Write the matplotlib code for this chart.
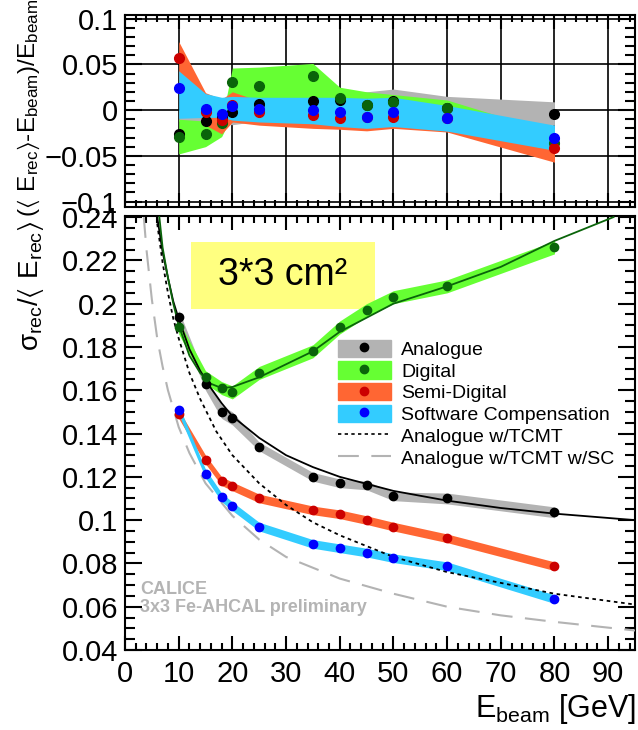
import numpy as np
import matplotlib
matplotlib.use("Agg")
import matplotlib.pyplot as plt
from matplotlib.patches import Patch, Rectangle
from matplotlib.lines import Line2D
from matplotlib.ticker import MultipleLocator, FuncFormatter

plt.rcParams["font.family"] = ["Liberation Sans", "DejaVu Sans"]
plt.rcParams["mathtext.default"] = "regular"

# ---------------------------------------------------
# Data
# ---------------------------------------------------

energy = [10, 15, 18, 20, 25, 35, 40, 45, 50, 60, 80]

# resolution (bottom panel)
res_ana = [0.194, 0.163, 0.150, 0.147, 0.134, 0.120, 0.117, 0.116, 0.111, 0.110, 0.1036]
res_dig = [0.189, 0.166, 0.161, 0.159, 0.168, 0.178, 0.189, 0.197, 0.203, 0.208, 0.226]
res_semi = [0.149, 0.128, 0.118, 0.1156, 0.110, 0.1045, 0.1027, 0.100, 0.097, 0.0916, 0.0787]
res_sc = [0.151, 0.1215, 0.1105, 0.1064, 0.097, 0.089, 0.087, 0.085, 0.0824, 0.0787, 0.0635]

err_ana = [0.003, 0.003, 0.003, 0.003, 0.002, 0.002, 0.002, 0.002, 0.002, 0.0025, 0.0025]
err_dig = [0.003, 0.003, 0.003, 0.003, 0.003, 0.003, 0.003, 0.003, 0.003, 0.003, 0.003]
err_semi = [0.002, 0.002, 0.002, 0.002, 0.002, 0.002, 0.002, 0.002, 0.002, 0.002, 0.002]
err_sc = [0.002, 0.002, 0.002, 0.002, 0.002, 0.002, 0.002, 0.002, 0.002, 0.002, 0.002]

# fit curves
fit_ana_e = [5.8, 6, 7, 8, 9, 10, 12, 14, 16, 18, 20, 25, 30, 35, 40, 50, 60, 70, 80, 95]
fit_ana = [0.245, 0.240, 0.224, 0.212, 0.201, 0.193, 0.179, 0.169, 0.161, 0.154, 0.148,
           0.138, 0.130, 0.1245, 0.120, 0.1135, 0.109, 0.1056, 0.103, 0.100]

fit_dig_e = [6.4, 7, 8, 9, 10, 12, 14, 16, 18, 20, 25, 30, 35, 40, 50, 60, 70, 80, 91]
fit_dig = [0.240, 0.226, 0.212, 0.200, 0.190, 0.176, 0.168, 0.163, 0.161, 0.1615, 0.166,
           0.172, 0.178, 0.187, 0.200, 0.208, 0.217, 0.229, 0.240]

tcmt_e = [6, 7, 8, 9, 10, 12, 14, 17, 20, 25, 30, 35, 40, 50, 60, 70, 80, 95]
tcmt = [0.237, 0.219, 0.205, 0.193, 0.184, 0.168, 0.156, 0.141, 0.130, 0.117, 0.107,
        0.099, 0.093, 0.083, 0.076, 0.071, 0.066, 0.061]

tcmt_sc_e = [3.5, 4, 5, 6, 7, 8, 10, 12, 15, 20, 25, 30, 40, 50, 60, 70, 80, 95]
tcmt_sc = [0.240, 0.225, 0.202, 0.184, 0.171, 0.160, 0.143, 0.131, 0.117, 0.102, 0.091,
           0.083, 0.073, 0.066, 0.060, 0.056, 0.053, 0.049]

# linearity (top panel)
dev_ana = [-0.026, -0.012, -0.008, -0.002, 0.007, 0.010, 0.011, 0.006, 0.010, 0.002, -0.004]
dev_dig = [-0.029, -0.026, -0.014, 0.031, 0.026, 0.037, 0.013, 0.006, 0.009, 0.002, -0.036]
dev_semi = [0.057, -0.002, -0.011, 0.006, -0.002, -0.005, -0.009, -0.008, -0.008, -0.009, -0.042]
dev_sc = [0.024, 0.001, -0.004, 0.004, 0.001, 0.000, -0.002, -0.008, -0.002, -0.009, -0.030]

band_ana_lo = [-0.012, -0.013, -0.015, -0.016, -0.012, -0.012, -0.012, -0.012, -0.012, -0.014, -0.0165]
band_ana_hi = [0.0, 0.0, 0.0, 0.020, 0.017, 0.019, 0.019, 0.020, 0.023, 0.015, 0.009]
band_dig_lo = [-0.048, -0.040, -0.029, -0.005, -0.005, -0.005, -0.005, -0.008, -0.008, -0.010, -0.035]
band_dig_hi = [-0.010, -0.012, -0.012, 0.046, 0.047, 0.051, 0.025, 0.020, 0.017, 0.011, -0.025]
band_semi_lo = [0.030, -0.0165, -0.026, -0.013, -0.0165, -0.020, -0.021, -0.0227, -0.020, -0.024, -0.057]
band_semi_hi = [0.075, 0.019, 0.012, 0.020, 0.010, 0.008, 0.008, 0.008, 0.008, 0.0, -0.020]
band_sc_lo = [-0.009, -0.008, -0.008, -0.011, -0.013, -0.015, -0.018, -0.020, -0.018, -0.023, -0.044]
band_sc_hi = [0.043, 0.018, 0.014, 0.015, 0.014, 0.014, 0.014, 0.013, 0.014, 0.005, -0.0165]

labels = ["Analogue", "Digital", "Semi-Digital", "Software Compensation",
          "Analogue w/TCMT", "Analogue w/TCMT w/SC"]

# ---------------------------------------------------
# Styles
# ---------------------------------------------------

c_gray = "#b3b3b3"
c_green = "#66ff33"
c_red = "#ff6633"
c_blue = "#33ccff"
m_black = "black"
m_green = "#0a640a"
m_red = "#cc0000"
m_blue = "#0000ff"

W, H = 638, 730
fig = plt.figure(figsize=(W / 100, H / 100), dpi=100)

ax_top = fig.add_axes([125 / W, 1 - 207 / H, 510 / W, 192 / H])
ax_bot = fig.add_axes([125 / W, 1 - 650 / H, 510 / W, 434 / H])

def fmt(v, pos):
    s = "%g" % v
    if abs(v) < 1e-9:
        s = "0"
    return s.replace("-", "\u2212")

for ax in (ax_top, ax_bot):
    ax.set_xlim(0, 95)
    ax.xaxis.set_major_locator(MultipleLocator(10))
    ax.xaxis.set_minor_locator(MultipleLocator(2))
    ax.tick_params(which="both", direction="in", top=True, right=True, width=1.5,
                   labelsize=21)
    ax.tick_params(which="major", length=10)
    ax.tick_params(which="minor", length=5)
    ax.tick_params(axis="y", which="major", length=12)
    ax.tick_params(axis="y", which="minor", length=7)
    ax.yaxis.set_major_formatter(FuncFormatter(fmt))
    for s in ax.spines.values():
        s.set_linewidth(1.5)

# ---------------------------------------------------
# Top panel: linearity
# ---------------------------------------------------

ax_top.set_ylim(-0.106, 0.104)
ax_top.yaxis.set_major_locator(MultipleLocator(0.05))
ax_top.yaxis.set_minor_locator(MultipleLocator(0.01))
ax_top.tick_params(axis="x", labelbottom=False)
ax_top.tick_params(axis="y", pad=5)
ax_top.grid(True, which="major", color="black", lw=1.2, zorder=0)
ax_top.set_axisbelow(True)

ax_top.fill_between(energy, band_ana_lo, band_ana_hi, color=c_gray, lw=0, zorder=1)
ax_top.fill_between(energy, band_dig_lo, band_dig_hi, color=c_green, lw=0, zorder=2)
ax_top.fill_between(energy, band_semi_lo, band_semi_hi, color=c_red, lw=0, zorder=3)
ax_top.fill_between(energy, band_sc_lo, band_sc_hi, color=c_blue, lw=0, zorder=4)

ax_top.plot(energy, dev_ana, "o", color=m_black, ms=7, zorder=5)
ax_top.plot(energy, dev_dig, "o", color=m_green, ms=7, zorder=6)
ax_top.plot(energy, dev_semi, "o", color=m_red, ms=7, zorder=7)
ax_top.plot(energy, dev_sc, "o", color=m_blue, ms=7, zorder=8)

# ---------------------------------------------------
# Bottom panel: resolution
# ---------------------------------------------------

ax_bot.set_ylim(0.04, 0.2405)
ax_bot.yaxis.set_major_locator(MultipleLocator(0.02))
ax_bot.yaxis.set_minor_locator(MultipleLocator(0.005))
ax_bot.tick_params(axis="y", pad=5)
ax_bot.tick_params(axis="x", pad=7)

ax_bot.add_patch(Rectangle((0.129, 0.786), 0.361, 0.154, transform=ax_bot.transAxes,
                           facecolor="#ffff80", edgecolor="none", zorder=0.5))
ax_bot.text(0.31, 0.863, "3*3 cm\u00b2", transform=ax_bot.transAxes, fontsize=27,
            ha="center", va="center", zorder=0.6)

def band(ax, y, e, color, z):
    y = np.array(y)
    e = np.array(e)
    ax.fill_between(energy, y - e, y + e, color=color, lw=0, zorder=z)

band(ax_bot, res_ana, err_ana, c_gray, 1)
band(ax_bot, res_dig, err_dig, c_green, 2)
band(ax_bot, res_semi, err_semi, c_red, 3)
band(ax_bot, res_sc, err_sc, c_blue, 4)

ax_bot.plot(fit_ana_e, fit_ana, color="black", lw=1.3, zorder=5)
ax_bot.plot(fit_dig_e, fit_dig, color=m_green, lw=1.3, zorder=5)
ax_bot.plot(tcmt_e, tcmt, color="black", lw=1.3, ls=(0, (2, 2)), zorder=5)
ax_bot.plot(tcmt_sc_e, tcmt_sc, color=c_gray, lw=1.5, ls=(0, (10, 6)), zorder=5)

ax_bot.plot(energy, res_ana, "o", color=m_black, ms=6, zorder=6)
ax_bot.plot(energy, res_dig, "o", color=m_green, ms=6, zorder=6)
ax_bot.plot(energy, res_semi, "o", color=m_red, ms=6, zorder=7)
ax_bot.plot(energy, res_sc, "o", color=m_blue, ms=6, zorder=8)

ax_bot.text(0.03, 0.14, "CALICE", transform=ax_bot.transAxes, fontsize=13,
            fontweight="bold", color="#b4b4b4", va="center")
ax_bot.text(0.03, 0.098, "3x3 Fe-AHCAL preliminary", transform=ax_bot.transAxes,
            fontsize=13, fontweight="bold", color="#b4b4b4", va="center")

handles = [
    (Patch(color=c_gray), Line2D([], [], marker="o", color=m_black, ls="none", ms=6)),
    (Patch(color=c_green), Line2D([], [], marker="o", color=m_green, ls="none", ms=6)),
    (Patch(color=c_red), Line2D([], [], marker="o", color=m_red, ls="none", ms=6)),
    (Patch(color=c_blue), Line2D([], [], marker="o", color=m_blue, ls="none", ms=6)),
    Line2D([], [], color="black", lw=1.2, ls=(0, (2, 2))),
    Line2D([], [], color=c_gray, lw=1.5, ls=(0, (10, 6))),
]
ax_bot.legend(handles, labels, loc="upper left", bbox_to_anchor=(0.418, 0.715),
              frameon=False, fontsize=14, handlelength=2.7, handleheight=1.0,
              labelspacing=0.12, handletextpad=0.55, borderaxespad=0, borderpad=0)

# ---------------------------------------------------
# Axis titles
# ---------------------------------------------------

fig.text(29 / W, 1 - 108 / H,
         r"$(\langle\ E_{rec}\rangle$-$E_{beam})/E_{beam}$",
         rotation=90, ha="center", va="center", fontsize=17.5)
fig.text(31 / W, 1 - 286 / H, r"$\sigma_{rec}/\langle\ E_{rec}\rangle$",
         rotation=90, ha="center", va="center", fontsize=20)
fig.text(636 / W, 1 - 717 / H, r"$E_{beam}$ [GeV]", ha="right", va="baseline",
         fontsize=22)

fig.savefig("out.png", dpi=100, facecolor="white")
